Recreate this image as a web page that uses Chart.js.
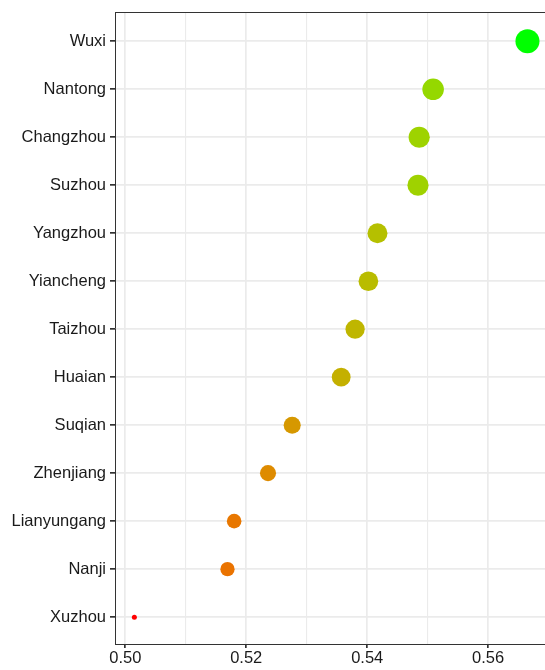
<!DOCTYPE html>
<html>
<head>
<meta charset="utf-8">
<script src="https://cdn.jsdelivr.net/npm/chart.js@4"></script>
<style>
  body { margin: 0; background: #fff; }
  canvas { display: block; }
</style>
</head>
<body>
<canvas id="dotChart" width="545" height="670"></canvas>
<script>
// data
const cities = ['Wuxi', 'Nantong', 'Changzhou', 'Suzhou', 'Yangzhou', 'Yiancheng', 'Taizhou',
                'Huaian', 'Suqian', 'Zhenjiang', 'Lianyungang', 'Nanji', 'Xuzhou'];
const scores = [0.5665, 0.5509, 0.5486, 0.5484, 0.5417, 0.5402, 0.5380,
                0.5357, 0.5276, 0.5236, 0.5180, 0.5169, 0.5015];
const xTicks = [0.50, 0.51, 0.52, 0.53, 0.54, 0.55, 0.56];
const xLabels = ['0.50', '', '0.52', '', '0.54', '', '0.56'];

// red -> green gradient in Lab, like ggplot's scale_colour_gradient
function srgbToLin(c) { c /= 255; return c <= 0.04045 ? c / 12.92 : Math.pow((c + 0.055) / 1.055, 2.4); }
function linToSrgb(c) {
    c = c <= 0.0031308 ? 12.92 * c : 1.055 * Math.pow(c, 1 / 2.4) - 0.055;
    return Math.round(Math.min(1, Math.max(0, c)) * 255);
}
const WX = 0.95047, WY = 1.0, WZ = 1.08883;
function fLab(t) { return t > 216 / 24389 ? Math.cbrt(t) : (24389 / 27 * t + 16) / 116; }
function fInv(t) { return t * t * t > 216 / 24389 ? t * t * t : (116 * t - 16) / (24389 / 27); }
function toLab(rgb) {
    const r = srgbToLin(rgb[0]), g = srgbToLin(rgb[1]), b = srgbToLin(rgb[2]);
    const x = (0.4124 * r + 0.3576 * g + 0.1805 * b) / WX;
    const y = (0.2126 * r + 0.7152 * g + 0.0722 * b) / WY;
    const z = (0.0193 * r + 0.1192 * g + 0.9505 * b) / WZ;
    const fx = fLab(x), fy = fLab(y), fz = fLab(z);
    return [116 * fy - 16, 500 * (fx - fy), 200 * (fy - fz)];
}
function fromLab(lab) {
    const fy = (lab[0] + 16) / 116, fx = fy + lab[1] / 500, fz = fy - lab[2] / 200;
    const x = fInv(fx) * WX, y = fInv(fy) * WY, z = fInv(fz) * WZ;
    const r = 3.2406 * x - 1.5372 * y - 0.4986 * z;
    const g = -0.9689 * x + 1.8758 * y + 0.0415 * z;
    const b = 0.0557 * x - 0.2040 * y + 1.0570 * z;
    return 'rgb(' + linToSrgb(r) + ',' + linToSrgb(g) + ',' + linToSrgb(b) + ')';
}
const labLow = toLab([255, 0, 0]);
const labHigh = toLab([0, 255, 0]);

const sMin = Math.min(...scores);
const sMax = Math.max(...scores);
const share = scores.map(v => (v - sMin) / (sMax - sMin));
const pointColors = share.map(t => fromLab([0, 1, 2].map(k => labLow[k] + (labHigh[k] - labLow[k]) * t)));
const pointSizes = share.map(t => 2.5 + 9.5 * Math.sqrt(t));

const topBorder = {
    id: 'topBorder',
    afterDraw(chart) {
        const a = chart.chartArea, c = chart.ctx;
        c.save();
        c.strokeStyle = '#333';
        c.lineWidth = 1;
        c.beginPath();
        c.moveTo(a.left, a.top + 0.5);
        c.lineTo(a.right, a.top + 0.5);
        c.stroke();
        c.restore();
    }
};

const ctx = document.getElementById('dotChart');
new Chart(ctx, {
    type: 'scatter',
    data: {
        datasets: [{
            data: scores.map((v, i) => ({ x: v, y: i })),
            pointRadius: pointSizes,
            pointHoverRadius: pointSizes,
            pointBackgroundColor: pointColors,
            pointBorderWidth: 0,
            borderWidth: 0,
            clip: false
        }]
    },
    options: {
        responsive: false,
        animation: false,
        layout: { autoPadding: false, padding: { top: 12, left: 0, right: 0, bottom: 0 } },
        plugins: { legend: { display: false }, tooltip: { enabled: false } },
        scales: {
            x: {
                type: 'linear',
                min: 0.4983,
                max: 0.5694,
                afterBuildTicks: s => { s.ticks = xTicks.map(v => ({ value: v })); },
                afterFit: s => { s.height = 26; s.paddingLeft = 0; s.paddingRight = 0; },
                ticks: {
                    callback: (v, i) => xLabels[i],
                    color: '#1a1a1a',
                    font: { family: '"Liberation Sans", Arial, sans-serif', size: 16.5 },
                    padding: 1,
                    maxRotation: 0,
                    autoSkip: false
                },
                grid: {
                    color: '#EBEBEB',
                    lineWidth: c => (c.index % 2 === 0 ? 1.7 : 1.1),
                    tickColor: c => (c.index % 2 === 0 ? '#333' : 'rgba(0,0,0,0)'),
                    tickLength: 4
                },
                border: { display: true, color: '#333', width: 1 }
            },
            y: {
                type: 'linear',
                reverse: true,
                min: -0.61,
                max: 12.56,
                afterBuildTicks: s => { s.ticks = cities.map((c, i) => ({ value: i })); },
                afterFit: s => { s.width = 115; s.paddingTop = 0; s.paddingBottom = 0; },
                ticks: {
                    callback: v => cities[v],
                    color: '#1a1a1a',
                    font: { family: '"Liberation Sans", Arial, sans-serif', size: 16.5 },
                    padding: 4,
                    autoSkip: false
                },
                grid: {
                    color: '#EBEBEB',
                    lineWidth: 1.7,
                    tickColor: '#333',
                    tickLength: 5
                },
                border: { display: true, color: '#333', width: 1 }
            }
        }
    },
    plugins: [topBorder]
});
</script>
</body>
</html>
